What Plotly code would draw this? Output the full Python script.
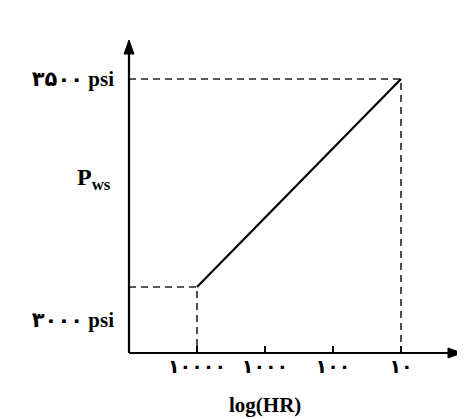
import plotly.graph_objects as go

# ---- data ----
hr_ticks = [10000, 1000, 100, 10]
hr_tick_labels = ["۱۰۰۰۰", "۱۰۰۰", "۱۰۰", "۱۰"]
p_ticks = [3000, 3500]
p_tick_labels = ["۳۰۰۰ psi", "۳۵۰۰ psi"]
line_hr = [10000, 10]
line_pws = [3068, 3500]

# axis extents
x_range_log = [5, 0.103]       # reversed log axis (log10 units)
y_range = [2931, 3581]
x_origin = 10 ** x_range_log[0]
y_origin = y_range[0]

FONT = "Liberation Serif, Times New Roman, DejaVu Serif, DejaVu Sans"
dash = "7px,5px"

fig = go.Figure()

# dashed reference lines
fig.add_trace(go.Scatter(x=[x_origin, line_hr[0], line_hr[0]],
                         y=[line_pws[0], line_pws[0], y_origin],
                         mode="lines", line=dict(color="#222", width=1.6, dash=dash),
                         hoverinfo="skip", showlegend=False))
fig.add_trace(go.Scatter(x=[x_origin, line_hr[1], line_hr[1]],
                         y=[line_pws[1], line_pws[1], y_origin],
                         mode="lines", line=dict(color="#222", width=1.6, dash=dash),
                         hoverinfo="skip", showlegend=False))
# main line
fig.add_trace(go.Scatter(x=line_hr, y=line_pws, mode="lines",
                         line=dict(color="black", width=2.2),
                         hoverinfo="skip", showlegend=False))

fig.update_layout(
    width=457, height=411,
    margin=dict(l=121, r=3, t=32, b=66),
    paper_bgcolor="white", plot_bgcolor="white",
    showlegend=False,
    xaxis=dict(type="log", range=x_range_log, showgrid=False, zeroline=False,
               showline=False, tickmode="array", tickvals=hr_ticks,
               ticktext=hr_tick_labels, ticks="inside", ticklen=7, tickwidth=2,
               tickcolor="black",
               tickfont=dict(family=FONT, size=19, color="black", weight="bold")),
    yaxis=dict(range=y_range, showgrid=False, zeroline=False, showline=False,
               tickmode="array", tickvals=p_ticks, ticktext=p_tick_labels,
               ticks="", ticklabelstandoff=14,
               tickfont=dict(family=FONT, size=21, color="black", weight="bold")),
)

# axis lines with arrowheads (decoration, in paper space)
axis_style = dict(color="black", width=2.2)
fig.add_shape(type="line", xref="paper", yref="paper", x0=0, y0=0, x1=0, y1=0.97,
              line=axis_style)
fig.add_shape(type="line", xref="paper", yref="paper", x0=0, y0=0, x1=0.97, y1=0,
              line=axis_style)
fig.add_shape(type="path", xref="paper", yref="paper", xsizemode="pixel",
              ysizemode="pixel", xanchor=0, yanchor=1,
              path="M-5,-14 L0,0 L5,-14 Z", fillcolor="black",
              line=dict(color="black", width=1))
fig.add_shape(type="path", xref="paper", yref="paper", xsizemode="pixel",
              ysizemode="pixel", xanchor=1, yanchor=0,
              path="M-14,-5 L0,0 L-14,5 Z", fillcolor="black",
              line=dict(color="black", width=1))

# x-axis label
fig.add_annotation(x=3, y=0, xref="x", yref="paper", yshift=-52, showarrow=False,
                   text="<b>log(HR)</b>", xanchor="center", yanchor="middle",
                   font=dict(family=FONT, size=21, color="black"))

# P_ws label
fig.add_annotation(x=-0.105, y=0.555, xref="paper", yref="paper", showarrow=False,
                   text="<b>P<sub>ws</sub></b>", xanchor="center", yanchor="middle",
                   font=dict(family=FONT, size=24, color="black"))

fig.write_html("out.html")
